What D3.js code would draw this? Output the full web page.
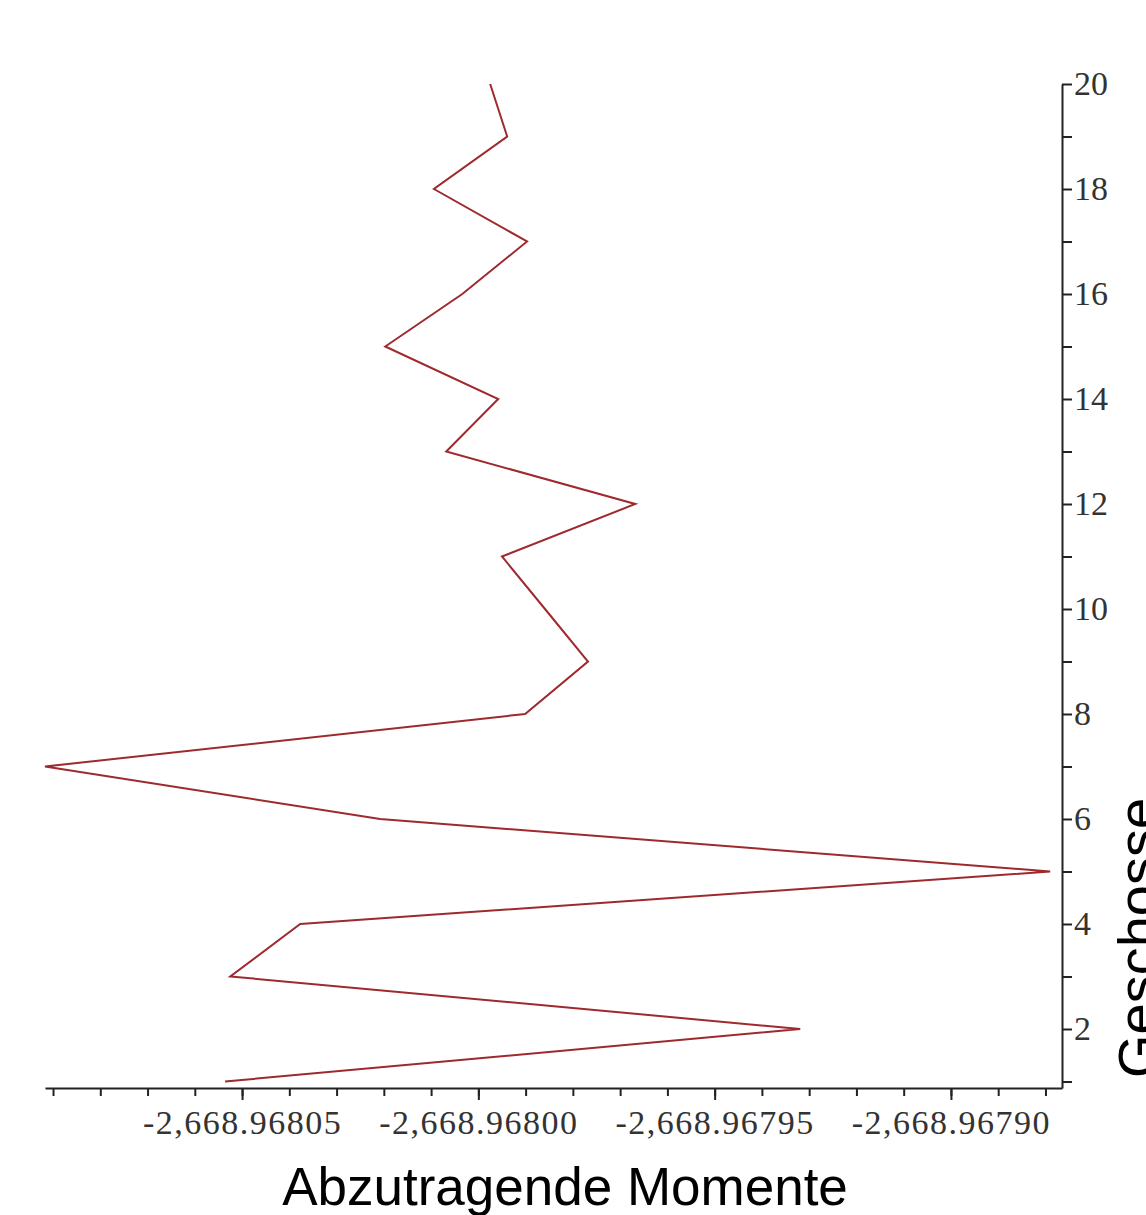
<!DOCTYPE html>
<html>
<head>
  <title>Abzutragende Momente</title>
  <script src="https://d3js.org/d3.v7.min.js"></script>
  <style>
    body { margin: 0; background: #fff; }
    .tick text { font-family: "Liberation Serif", "Times New Roman", serif; fill: #333; }
    .title { font-family: "Liberation Sans", Arial, sans-serif; fill: #000; }
  </style>
</head>
<body>
  <div id="chart"></div>
  <script>
    // Geschoss (floor) numbers and the moment per floor
    const floors = [1, 2, 3, 4, 5, 6, 7, 8, 9, 10, 11, 12, 13, 14, 15, 16, 17, 18, 19, 20];
    const moments = [
      -2668.9680536, -2668.9679319, -2668.9680525, -2668.9680377, -2668.9678790,
      -2668.9680208, -2668.9680917, -2668.9679901, -2668.9679768, -2668.9679859,
      -2668.9679950, -2668.9679668, -2668.9680068, -2668.9679958, -2668.9680197,
      -2668.9680034, -2668.9679897, -2668.9680094, -2668.9679939, -2668.9679975
    ];

    // axis ticks
    const xMajorTicks = [-2668.96805, -2668.96800, -2668.96795, -2668.96790];
    const xMajorLabels = ["-2,668.96805", "-2,668.96800", "-2,668.96795", "-2,668.96790"];
    const xMinorSteps = d3.range(-4, 18); // steps of 0.00001 from -2668.96805
    const yTicks = d3.range(1, 21);
    const yLabels = yTicks.map(d => d % 2 === 0 ? String(d) : "");

    const width = 1146, height = 1215;

    const svg = d3.select("#chart")
      .append("svg")
      .attr("width", width)
      .attr("height", height);

    const xScale = d3.scaleLinear()
      .domain([-2668.9680917, -2668.9678765])
      .range([45, 1062]);

    const yScale = d3.scaleLinear()
      .domain([0.876, 20])
      .range([1088, 84]);

    // minor x ticks
    const minorVals = xMinorSteps.map(i => -2668.96805 + i * 0.00001);
    svg.append("g")
      .attr("transform", "translate(0,1088)")
      .call(d3.axisBottom(xScale).tickValues(minorVals).tickSize(8).tickFormat(""))
      .call(g => g.select(".domain").remove())
      .selectAll("line").attr("stroke", "#222").attr("stroke-width", 2);

    // major x ticks with labels
    const xAxis = svg.append("g")
      .attr("transform", "translate(0,1088)")
      .call(d3.axisBottom(xScale)
        .tickValues(xMajorTicks)
        .tickSize(12)
        .tickSizeOuter(0)
        .tickPadding(10)
        .tickFormat((d, i) => xMajorLabels[i]));
    xAxis.select(".domain").attr("stroke", "#222").attr("stroke-width", 2);
    xAxis.selectAll("line").attr("stroke", "#222").attr("stroke-width", 2);
    xAxis.selectAll("text")
      .style("font-size", "34px")
      .style("letter-spacing", "1.5px");

    // y axis on the right
    const yAxis = svg.append("g")
      .attr("transform", "translate(1062,0)")
      .call(d3.axisRight(yScale)
        .tickValues(yTicks)
        .tickSize(10)
        .tickSizeOuter(0)
        .tickPadding(2)
        .tickFormat((d, i) => yLabels[i]));
    yAxis.select(".domain").attr("stroke", "#222").attr("stroke-width", 2);
    yAxis.selectAll("line").attr("stroke", "#222").attr("stroke-width", 2);
    yAxis.selectAll("text").style("font-size", "34px");

    // the curve
    const line = d3.line()
      .x(d => xScale(d[1]))
      .y(d => yScale(d[0]));

    svg.append("path")
      .datum(floors.map((f, i) => [f, moments[i]]))
      .attr("fill", "none")
      .attr("stroke", "#9e2a2e")
      .attr("stroke-width", 2)
      .attr("stroke-linejoin", "miter")
      .attr("d", line);

    // axis titles
    svg.append("text")
      .attr("class", "title")
      .attr("x", 565)
      .attr("y", 1205)
      .attr("text-anchor", "middle")
      .style("font-size", "53px")
      .text("Abzutragende Momente");

    // the reference crops this title at the right edge as well
    svg.append("text")
      .attr("class", "title")
      .attr("transform", "translate(1157,938) rotate(-90)")
      .attr("text-anchor", "middle")
      .style("font-size", "56px")
      .text("Geschosse");
  </script>
</body>
</html>
